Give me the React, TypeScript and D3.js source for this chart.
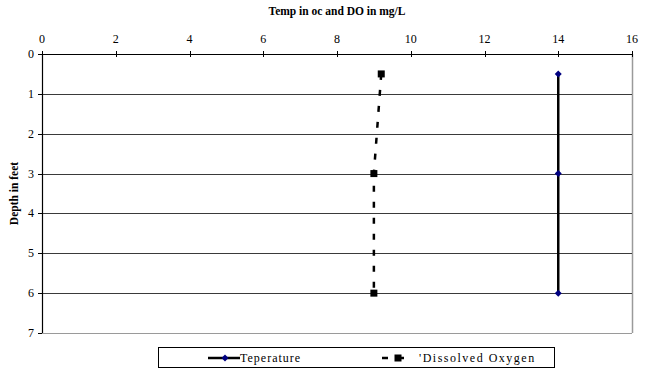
import React from "react";
import * as d3 from "d3";

const depths = [0.5, 3, 6];
const temperature = [14, 14, 14];
const dissolvedOxygen = [9.2, 9, 9];
const xTicks = [0, 2, 4, 6, 8, 10, 12, 14, 16];
const yTicks = [0, 1, 2, 3, 4, 5, 6, 7];

const W = 651;
const H = 369;
const M = { left: 42, right: 632, top: 54, bottom: 333 };
const FONT = "'Liberation Serif', 'Times New Roman', serif";

export default function App() {
  const x = d3.scaleLinear().domain([0, 16]).range([M.left, M.right]);
  const y = d3.scaleLinear().domain([0, 7]).range([M.top, M.bottom]);
  const line = d3
    .line<[number, number]>()
    .x((d) => x(d[0]))
    .y((d) => y(d[1]));
  const tempPts: [number, number][] = depths.map((d, i) => [temperature[i], d]);
  const doPts: [number, number][] = depths.map((d, i) => [dissolvedOxygen[i], d]);
  const diamond = (cx: number, cy: number, r: number) =>
    `M${cx},${cy - r}L${cx + r},${cy}L${cx},${cy + r}L${cx - r},${cy}Z`;

  return (
    <svg
      width={W}
      height={H}
      style={{ position: "absolute", left: 0, top: 0, background: "#fff", fontFamily: FONT }}
    >
      <rect x={0} y={0} width={W} height={H} fill="#fff" />
      {/* plot border right & bottom */}
      <line x1={M.right + 0.5} x2={M.right + 0.5} y1={M.top} y2={M.bottom} stroke="#9a9a9a" strokeWidth={1.5} />
      <line x1={M.left} x2={M.right} y1={M.bottom + 0.5} y2={M.bottom + 0.5} stroke="#9a9a9a" strokeWidth={1} />
      {/* gridlines */}
      {yTicks.slice(1, -1).map((t) => (
        <line key={t} x1={M.left} x2={M.right} y1={Math.round(y(t)) + 0.5} y2={Math.round(y(t)) + 0.5} stroke="#3a3a3a" strokeWidth={1} />
      ))}
      {/* top axis */}
      <line x1={M.left} x2={M.right} y1={M.top + 0.5} y2={M.top + 0.5} stroke="#000" strokeWidth={1.2} />
      {xTicks.map((t) => (
        <g key={t}>
          <line x1={Math.round(x(t)) + 0.5} x2={Math.round(x(t)) + 0.5} y1={M.top - 3} y2={M.top + 3} stroke="#000" />
          <text x={x(t)} y={M.top - 11} textAnchor="middle" fontSize={12}>
            {t}
          </text>
        </g>
      ))}
      {/* left axis */}
      <line x1={M.left + 0.5} x2={M.left + 0.5} y1={M.top} y2={M.bottom} stroke="#000" strokeWidth={1.2} />
      {yTicks.map((t) => (
        <g key={t}>
          <line x1={M.left - 4} x2={M.left} y1={Math.round(y(t)) + 0.5} y2={Math.round(y(t)) + 0.5} stroke="#000" />
          <text x={M.left - 8} y={y(t) + 4} textAnchor="end" fontSize={12}>
            {t}
          </text>
        </g>
      ))}
      <text x={(M.left + M.right) / 2} y={15} textAnchor="middle" fontSize={11.5} fontWeight="bold">
        Temp in oc and DO in mg/L
      </text>
      <text
        transform={`translate(18,${(M.top + M.bottom) / 2}) rotate(-90)`}
        textAnchor="middle"
        fontSize={11.5}
        fontWeight="bold"
      >
        Depth in feet
      </text>
      {/* series */}
      <path d={line(tempPts) || ""} fill="none" stroke="#000" strokeWidth={2.5} />
      {tempPts.map((p, i) => (
        <path key={i} d={diamond(x(p[0]), y(p[1]), 3.5)} fill="#000080" />
      ))}
      <path d={line(doPts) || ""} fill="none" stroke="#000" strokeWidth={2.5} strokeDasharray="6,10" />
      {doPts.map((p, i) => (
        <rect key={i} x={x(p[0]) - 3.5} y={y(p[1]) - 3.5} width={7} height={7} fill="#000" />
      ))}
      {/* legend */}
      <rect x={158.5} y={347.5} width={396} height={20} fill="#fff" stroke="#000" strokeWidth={1} />
      <line x1={208} x2={240} y1={358} y2={358} stroke="#000" strokeWidth={2.5} />
      <path d={diamond(225, 358, 3.5)} fill="#000080" />
      <text x={240} y={362} fontSize={12} letterSpacing={1}>
        Teperature
      </text>
      <line x1={382} x2={414} y1={358} y2={358} stroke="#000" strokeWidth={2.5} strokeDasharray="6,10" />
      <rect x={394.5} y={354.5} width={7} height={7} fill="#000" />
      <text x={419} y={362} fontSize={12} letterSpacing={1.5}>
        'Dissolved Oxygen
      </text>
    </svg>
  );
}
